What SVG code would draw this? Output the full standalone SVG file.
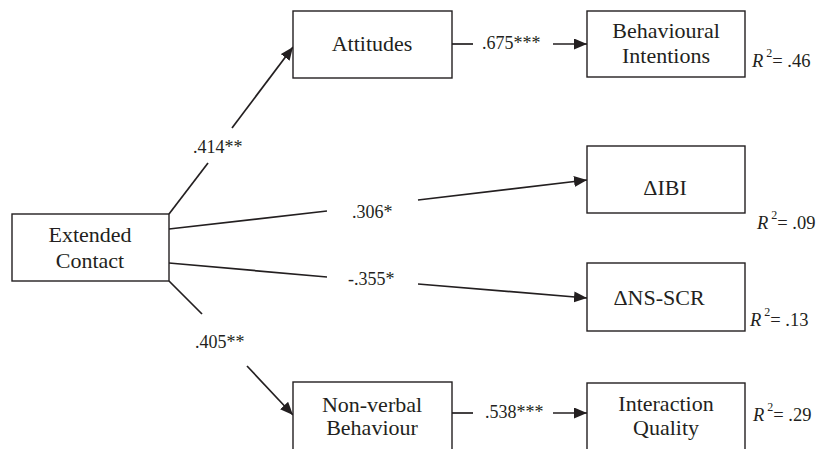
<svg xmlns="http://www.w3.org/2000/svg" width="824" height="449" viewBox="0 0 824 449">
<style>
.box{fill:#fff;stroke:#231f20;stroke-width:1.4}
.nt{font-family:"Liberation Serif","Times New Roman",serif;font-size:22px;fill:#231f20;text-anchor:middle}
.lb{font-family:"Liberation Serif","Times New Roman",serif;font-size:18px;fill:#231f20}
.r2{font-family:"Liberation Serif","Times New Roman",serif;font-size:18.5px;fill:#231f20}
.it{font-style:italic}
.ln{fill:none;stroke:#231f20;stroke-width:1.7}
</style>
<defs>
<marker id="ah" markerUnits="userSpaceOnUse" markerWidth="14" markerHeight="12" refX="13" refY="5.5" orient="auto">
<path d="M0,0 L13,5.5 L0,11 Z" fill="#231f20"/>
</marker>
</defs>
<rect width="824" height="449" fill="#fff"/>
<g id="connectors">
<line class="ln" x1="169" y1="214" x2="208" y2="163"/>
<line class="ln" x1="232" y1="128" x2="293" y2="47" marker-end="url(#ah)"/>
<line class="ln" x1="169" y1="229" x2="327" y2="211"/>
<line class="ln" x1="418" y1="200" x2="587" y2="180" marker-end="url(#ah)"/>
<line class="ln" x1="169" y1="263" x2="327" y2="277"/>
<line class="ln" x1="418" y1="284" x2="587" y2="298" marker-end="url(#ah)"/>
<line class="ln" x1="169" y1="281" x2="202" y2="314"/>
<line class="ln" x1="247" y1="366" x2="293" y2="415" marker-end="url(#ah)"/>
<line class="ln" x1="452" y1="44" x2="473" y2="44"/>
<line class="ln" x1="553" y1="44" x2="587" y2="44" marker-end="url(#ah)"/>
<line class="ln" x1="452" y1="413" x2="473" y2="413"/>
<line class="ln" x1="553" y1="413" x2="587" y2="413" marker-end="url(#ah)"/>
<text class="lb" x="193" y="153">.414**</text>
<text class="lb" x="352" y="218">.306*</text>
<text class="lb" x="348" y="285">-.355*</text>
<text class="lb" x="195" y="348">.405**</text>
<text class="lb" x="482" y="49">.675***</text>
<text class="lb" x="485" y="418">.538***</text>
</g>
<g id="extended-contact">
<rect class="box" x="12" y="214" width="157" height="67"/>
<text class="nt" x="90" y="242">Extended</text>
<text class="nt" x="90" y="268">Contact</text>
</g>
<g id="attitudes">
<rect class="box" x="293" y="11" width="159" height="67"/>
<text class="nt" x="372" y="51">Attitudes</text>
</g>
<g id="behavioural-intentions">
<rect class="box" x="587" y="11" width="158" height="66"/>
<text class="nt" x="666" y="38">Behavioural</text>
<text class="nt" x="666" y="63">Intentions</text>
<text class="r2" x="752" y="67"><tspan class="it">R</tspan><tspan dx="3" dy="-10" font-size="12">2</tspan><tspan dy="10">= .46</tspan></text>
</g>
<g id="ibi">
<rect class="box" x="587" y="146" width="158" height="67"/>
<text class="nt" x="665" y="195">ΔIBI</text>
<text class="r2" x="757" y="229"><tspan class="it">R</tspan><tspan dx="3" dy="-10" font-size="12">2</tspan><tspan dy="10">= .09</tspan></text>
</g>
<g id="ns-scr">
<rect class="box" x="587" y="263" width="158" height="68"/>
<text class="nt" x="659" y="305">ΔNS-SCR</text>
<text class="r2" x="750" y="326"><tspan class="it">R</tspan><tspan dx="3" dy="-10" font-size="12">2</tspan><tspan dy="10">= .13</tspan></text>
</g>
<g id="non-verbal-behaviour">
<rect class="box" x="293" y="382" width="159" height="80"/>
<text class="nt" x="372" y="412">Non-verbal</text>
<text class="nt" x="372" y="435">Behaviour</text>
</g>
<g id="interaction-quality">
<rect class="box" x="587" y="383" width="158" height="80"/>
<text class="nt" x="666" y="411">Interaction</text>
<text class="nt" x="666" y="435">Quality</text>
<text class="r2" x="753" y="421"><tspan class="it">R</tspan><tspan dx="3" dy="-10" font-size="12">2</tspan><tspan dy="10">= .29</tspan></text>
</g>
</svg>
